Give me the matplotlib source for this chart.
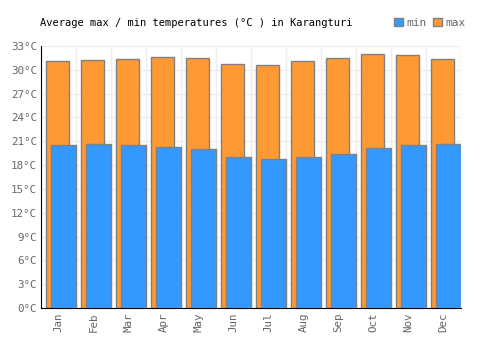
import matplotlib
matplotlib.use("Agg")
import matplotlib.pyplot as plt
import numpy as np

months = ['Jan', 'Feb', 'Mar', 'Apr', 'May', 'Jun',
          'Jul', 'Aug', 'Sep', 'Oct', 'Nov', 'Dec']
t_max = [31.1, 31.2, 31.3, 31.6, 31.5, 30.7, 30.6, 31.1, 31.5, 32.0, 31.8, 31.3]
t_min = [20.5, 20.6, 20.5, 20.3, 20.0, 19.0, 18.7, 19.0, 19.4, 20.2, 20.5, 20.7]
y_ticks = list(range(0, 34, 3))

plt.rcParams['font.family'] = 'DejaVu Sans Mono'

fig = plt.figure(figsize=(5, 3.5), dpi=100)
ax = fig.add_axes([0.082, 0.12, 0.84, 0.749])

x = np.arange(len(months))
ax.bar(x - 0.03, t_max, width=0.657, color='#ff9933', edgecolor='#808080',
       linewidth=1, zorder=2, label='max')
ax.bar(x + 0.143, t_min, width=0.714, color='#3399ff', edgecolor='#808080',
       linewidth=1, zorder=3, label='min')

ax.set_xlim(-0.5, len(months) - 0.5)
ax.set_ylim(0, 33)
ax.set_yticks(y_ticks)
ax.set_yticklabels([f'{v}°C' for v in y_ticks], color='#666666', fontsize=7.8)
ax.set_xticks(x)
ax.set_xticklabels(months, rotation=90, color='#666666', fontsize=7.8)
ax.set_xticks(np.arange(-0.5, len(months), 1), minor=True)
ax.tick_params(axis='both', length=0, pad=3)
ax.tick_params(axis='x', which='minor', length=0)

ax.grid(axis='y', color='#eeeeee', linewidth=1, zorder=0)
ax.grid(axis='x', which='minor', color='#eeeeee', linewidth=1, zorder=0)
ax.set_axisbelow(True)
for s in ['top', 'right']:
    ax.spines[s].set_visible(False)
ax.spines['left'].set_color('black')
ax.spines['bottom'].set_color('black')

fig.text(0.08, 0.935, 'Average max / min temperatures (°C ) in Karangturi',
         fontsize=7.5, color='black', ha='left', va='center')

handles, labels = ax.get_legend_handles_labels()
fig.legend(handles[::-1], labels[::-1], loc='center', bbox_to_anchor=(0.86, 0.935),
           ncol=2, frameon=False, fontsize=8, handlelength=0.8, handleheight=0.8,
           handletextpad=0.3, columnspacing=0.6, labelcolor='#666666')

fig.savefig('out.png', dpi=100)
